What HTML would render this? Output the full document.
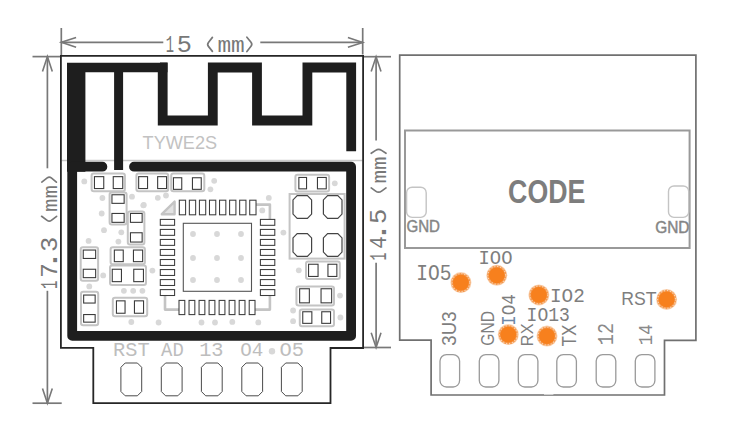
<!DOCTYPE html>
<html><head><meta charset="utf-8"><title>TYWE2S module dimensions</title>
<style>html,body{margin:0;padding:0;background:#fff;overflow:hidden;}svg{display:block;}text{font-kerning:none;}</style>
</head><body><svg width="738" height="432" viewBox="0 0 738 432"><g stroke="#787878" stroke-width="1.7" fill="none"><line x1="61.3" y1="28" x2="61.3" y2="55"/><line x1="362.7" y1="28" x2="362.7" y2="54.5"/><line x1="61.3" y1="42.3" x2="163.3" y2="42.3"/><line x1="260.3" y1="42.4" x2="362.7" y2="42.4"/><line x1="32.5" y1="56.6" x2="60.5" y2="56.6"/><line x1="32.5" y1="403.2" x2="61.7" y2="403.2"/><line x1="47.4" y1="56.6" x2="47.4" y2="168.3"/><line x1="47.4" y1="290.8" x2="47.4" y2="403.2"/><line x1="363.5" y1="56.7" x2="391" y2="56.7"/><line x1="363.5" y1="347.5" x2="391" y2="347.5"/><line x1="376.1" y1="56.7" x2="376.1" y2="140.4"/><line x1="376.1" y1="262.8" x2="376.1" y2="347.5"/></g><polyline points="76.1,37.4 61.3,42.3 76.1,47.2" fill="none" stroke="#787878" stroke-width="1.6"/><polyline points="347.9,37.5 362.7,42.4 347.9,47.3" fill="none" stroke="#787878" stroke-width="1.6"/><polyline points="42.5,71.4 47.4,56.6 52.3,71.4" fill="none" stroke="#787878" stroke-width="1.6"/><polyline points="42.5,388.4 47.4,403.2 52.3,388.4" fill="none" stroke="#787878" stroke-width="1.6"/><polyline points="371.2,71.5 376.1,56.7 381,71.5" fill="none" stroke="#787878" stroke-width="1.6"/><polyline points="371.2,332.7 376.1,347.5 381,332.7" fill="none" stroke="#787878" stroke-width="1.6"/><text transform="translate(165.705,52.4) scale(0.567,1)" font-family="Liberation Mono" font-size="24.291" fill="#787878">1</text><text transform="translate(176.718,52.4) scale(1.042,1)" font-family="Liberation Mono" font-size="24.291" fill="#787878">5</text><text transform="translate(217.398,52.2) scale(1.058,1)" font-family="Liberation Mono" font-size="21.558" fill="#787878">mm</text><path d="M212.4,37.4 L208.44,42.44 Q206.9,44.4 208.44,46.36 L212.4,51.4" fill="none" stroke="#787878" stroke-width="1.7" stroke-linecap="round"/><path d="M246.9,37.2 L251,42.31 Q252.6,44.3 251,46.32 L246.9,51.5" fill="none" stroke="#787878" stroke-width="1.7" stroke-linecap="round"/><text transform="translate(56.8,287.9) rotate(-90) translate(-1.002,0) scale(0.578,1)" font-family="Liberation Mono" font-size="23.987" fill="#787878">1</text><text transform="translate(56.8,275.8) rotate(-90) translate(-1.873,0) scale(1.012,1)" font-family="Liberation Mono" font-size="23.987" fill="#787878">7</text><text transform="translate(56.8,262.1) rotate(-90) translate(-8.865,0) scale(1.444,1)" font-family="Liberation Mono" font-size="25.343" fill="#787878">.</text><text transform="translate(56.8,250.4) rotate(-90) translate(-1.595,0) scale(1.081,1)" font-family="Liberation Mono" font-size="23.619" fill="#787878">3</text><text transform="translate(56.8,210.8) rotate(-90) translate(-1.078,0) scale(1.154,1)" font-family="Liberation Mono" font-size="19.328" fill="#787878">mm</text><path d="M41.6,216.3 L47.14,220.4 Q49.3,222 51.34,220.4 L56.6,216.3" fill="none" stroke="#787878" stroke-width="1.7" stroke-linecap="round"/><path d="M41.8,182.1 L47.2,177.92 Q49.3,176.3 51.29,177.92 L56.4,182.1" fill="none" stroke="#787878" stroke-width="1.7" stroke-linecap="round"/><text transform="translate(386.4,259.5) rotate(-90) translate(-0.942,0) scale(0.558,1)" font-family="Liberation Mono" font-size="23.38" fill="#787878">1</text><text transform="translate(386.4,247.8) rotate(-90) translate(-1.048,0) scale(0.891,1)" font-family="Liberation Mono" font-size="23.38" fill="#787878">4</text><text transform="translate(386.4,234.2) rotate(-90) translate(-8.865,0) scale(1.303,1)" font-family="Liberation Mono" font-size="28.083" fill="#787878">.</text><text transform="translate(386.4,222.5) rotate(-90) translate(-1.595,0) scale(1.092,1)" font-family="Liberation Mono" font-size="23.38" fill="#787878">5</text><text transform="translate(386.4,182.5) rotate(-90) translate(-1.098,0) scale(1.132,1)" font-family="Liberation Mono" font-size="20.071" fill="#787878">mm</text><path d="M371.2,187.9 L375.64,191.08 Q378.6,193.2 381.56,191.08 L386,187.9" fill="none" stroke="#787878" stroke-width="1.7" stroke-linecap="round"/><path d="M371.2,153.3 L375.64,150.36 Q378.6,148.4 381.56,150.36 L386,153.3" fill="none" stroke="#787878" stroke-width="1.7" stroke-linecap="round"/><line x1="61.5" y1="160.5" x2="362.5" y2="160.5" stroke="#cacaca" stroke-width="1.3"/><path d="M60.9,55.9 H363.1 V348 H330.5 V403.2 H93.3 V347.8 H60.9 Z" fill="none" stroke="#262626" stroke-width="1.8"/><path d="M67,62.7 H167.5 V72.2 H123.1 V170 H114.1 V72.2 H85.4 V171.7 H67 Z" fill="#1e1e1e"/><path d="M160,67.5 H162.7 V120.5 H212.8 V67.5 H257 V120.5 H307.4 V67.5 H351.2 V151.3" fill="none" stroke="#1e1e1e" stroke-width="9.8" stroke-linejoin="miter"/><text transform="translate(142.593,149.4) scale(0.952,1)" font-family="Liberation Sans" font-size="19.048" fill="#c2c2c2">TYWE2S</text><path d="M102.4,166.7 H72.2 V335.9 H351.1 V166.7 H134" fill="none" stroke="#1e1e1e" stroke-width="9.8" stroke-linecap="round" stroke-linejoin="round"/><rect x="91.6" y="173.6" width="33.3" height="17.6" rx="2.2" fill="#fff" stroke="#c4c4c4" stroke-width="2"/><rect x="94.45" y="176.65" width="9.3" height="11.9" fill="#fff" stroke="#3c3c3c" stroke-width="1.1"/><rect x="113.25" y="176.65" width="9.5" height="11.9" fill="#fff" stroke="#3c3c3c" stroke-width="1.1"/><rect x="136.4" y="173.6" width="31.8" height="17.6" rx="2.2" fill="#fff" stroke="#c4c4c4" stroke-width="2"/><rect x="138.65" y="176.65" width="8.9" height="11.9" fill="#fff" stroke="#3c3c3c" stroke-width="1.1"/><rect x="157.65" y="176.65" width="8.9" height="11.9" fill="#fff" stroke="#3c3c3c" stroke-width="1.1"/><rect x="171.2" y="173.6" width="33.1" height="17.6" rx="2.2" fill="#fff" stroke="#c4c4c4" stroke-width="2"/><rect x="173.45" y="177.75" width="8.3" height="11.6" fill="#fff" stroke="#3c3c3c" stroke-width="1.1"/><rect x="192.45" y="177.75" width="8.8" height="11.6" fill="#fff" stroke="#3c3c3c" stroke-width="1.1"/><rect x="109.6" y="192.4" width="17" height="32" rx="2.2" fill="#fff" stroke="#c4c4c4" stroke-width="2"/><rect x="111.95" y="194.75" width="12.2" height="8.6" fill="#fff" stroke="#3c3c3c" stroke-width="1.1"/><rect x="111.95" y="213.45" width="12.2" height="8.9" fill="#fff" stroke="#3c3c3c" stroke-width="1.1"/><rect x="127.8" y="211.4" width="16.6" height="33" rx="2.2" fill="#fff" stroke="#c4c4c4" stroke-width="2"/><rect x="130.45" y="213.45" width="11.7" height="8.9" fill="#fff" stroke="#3c3c3c" stroke-width="1.1"/><rect x="130.45" y="232.75" width="11.7" height="9.3" fill="#fff" stroke="#3c3c3c" stroke-width="1.1"/><rect x="80.7" y="247.3" width="17.4" height="33.4" rx="2.2" fill="#fff" stroke="#c4c4c4" stroke-width="2"/><rect x="83.25" y="250.05" width="12.4" height="8.4" fill="#fff" stroke="#3c3c3c" stroke-width="1.1"/><rect x="83.25" y="269.25" width="12.4" height="8.4" fill="#fff" stroke="#3c3c3c" stroke-width="1.1"/><rect x="110.6" y="247.3" width="34.3" height="16.9" rx="2.2" fill="#fff" stroke="#c4c4c4" stroke-width="2"/><rect x="114.35" y="250.05" width="8.9" height="11.6" fill="#fff" stroke="#3c3c3c" stroke-width="1.1"/><rect x="133.45" y="250.05" width="9.2" height="11.6" fill="#fff" stroke="#3c3c3c" stroke-width="1.1"/><rect x="110" y="265.4" width="36" height="19.5" rx="2.2" fill="#fff" stroke="#c4c4c4" stroke-width="2"/><rect x="112.25" y="269.25" width="9.2" height="12.4" fill="#fff" stroke="#3c3c3c" stroke-width="1.1"/><rect x="133.75" y="269.25" width="9.7" height="12.4" fill="#fff" stroke="#3c3c3c" stroke-width="1.1"/><rect x="81" y="291.8" width="17.2" height="33.4" rx="2.2" fill="#fff" stroke="#c4c4c4" stroke-width="2"/><rect x="83.65" y="295.05" width="11.5" height="8" fill="#fff" stroke="#3c3c3c" stroke-width="1.1"/><rect x="83.65" y="314.55" width="11.5" height="7.6" fill="#fff" stroke="#3c3c3c" stroke-width="1.1"/><rect x="112.8" y="297.8" width="34.4" height="18.5" rx="2.2" fill="#fff" stroke="#c4c4c4" stroke-width="2"/><rect x="116.45" y="300.85" width="8.6" height="12.4" fill="#fff" stroke="#3c3c3c" stroke-width="1.1"/><rect x="134.45" y="300.85" width="9.1" height="12.4" fill="#fff" stroke="#3c3c3c" stroke-width="1.1"/><rect x="295.4" y="174.8" width="33.7" height="16.6" rx="2.2" fill="#fff" stroke="#c4c4c4" stroke-width="2"/><rect x="298.85" y="177.45" width="7.7" height="11.4" fill="#fff" stroke="#3c3c3c" stroke-width="1.1"/><rect x="317.45" y="177.45" width="8.8" height="11.4" fill="#fff" stroke="#3c3c3c" stroke-width="1.1"/><rect x="306" y="261.4" width="33.8" height="17.6" rx="2.2" fill="#fff" stroke="#c4c4c4" stroke-width="2"/><rect x="308.55" y="264.25" width="9.5" height="12.2" fill="#fff" stroke="#3c3c3c" stroke-width="1.1"/><rect x="327.95" y="264.25" width="8.9" height="12.2" fill="#fff" stroke="#3c3c3c" stroke-width="1.1"/><rect x="296.4" y="286.4" width="37.6" height="19" rx="2.2" fill="#fff" stroke="#c4c4c4" stroke-width="2"/><rect x="299.65" y="288.75" width="9.7" height="14.1" fill="#fff" stroke="#3c3c3c" stroke-width="1.1"/><rect x="321.05" y="288.75" width="10.6" height="14.1" fill="#fff" stroke="#3c3c3c" stroke-width="1.1"/><rect x="299.8" y="309.4" width="34.2" height="16.9" rx="2.2" fill="#fff" stroke="#c4c4c4" stroke-width="2"/><rect x="302.75" y="311.75" width="9.1" height="11.6" fill="#fff" stroke="#3c3c3c" stroke-width="1.1"/><rect x="321.75" y="311.75" width="8.8" height="11.6" fill="#fff" stroke="#3c3c3c" stroke-width="1.1"/><rect x="289.6" y="194" width="55" height="64.6" fill="#fff" stroke="#c4c4c4" stroke-width="2"/><polygon points="297.2,195.7 307.4,195.7 311.6,199.9 311.6,214.1 307.4,218.3 297.2,218.3 293,214.1 293,199.9" fill="#fff" stroke="#444" stroke-width="1.2"/><polygon points="327.6,195.7 337.8,195.7 342,199.9 342,214.1 337.8,218.3 327.6,218.3 323.4,214.1 323.4,199.9" fill="#fff" stroke="#444" stroke-width="1.2"/><polygon points="297.2,233.7 307.4,233.7 311.6,237.9 311.6,252.1 307.4,256.3 297.2,256.3 293,252.1 293,237.9" fill="#fff" stroke="#444" stroke-width="1.2"/><polygon points="327.6,233.7 337.8,233.7 342,237.9 342,252.1 337.8,256.3 327.6,256.3 323.4,252.1 323.4,237.9" fill="#fff" stroke="#444" stroke-width="1.2"/><polygon points="161.8,214.2 174.6,201.6 174.6,214.2" fill="#e2e2e2" stroke="#c4c4c4" stroke-width="2.4" stroke-linejoin="round"/><g fill="none" stroke="#c4c4c4" stroke-width="2.6" stroke-linejoin="round"><polyline points="256,204.6 269.9,204.6 269.9,219.5"/><polyline points="165,295.8 165,309.6 179,309.6"/><polyline points="255,309.6 269.9,309.6 269.9,295.8"/></g><rect x="183.3" y="223.3" width="68.2" height="68" fill="#fff" stroke="#555" stroke-width="1.1"/><g fill="#fff" stroke="#3c3c3c" stroke-width="1.05"><rect x="179.3" y="200.2" width="6.3" height="14.6"/><rect x="179" y="300.4" width="5.8" height="14.2"/><rect x="160.3" y="219.4" width="14.3" height="5.9"/><rect x="260.4" y="219.4" width="14.4" height="5.9"/><rect x="189.36" y="200.2" width="6.3" height="14.6"/><rect x="189.03" y="300.4" width="5.8" height="14.2"/><rect x="160.3" y="229.43" width="14.3" height="5.9"/><rect x="260.4" y="229.43" width="14.4" height="5.9"/><rect x="199.42" y="200.2" width="6.3" height="14.6"/><rect x="199.06" y="300.4" width="5.8" height="14.2"/><rect x="160.3" y="239.46" width="14.3" height="5.9"/><rect x="260.4" y="239.46" width="14.4" height="5.9"/><rect x="209.48" y="200.2" width="6.3" height="14.6"/><rect x="209.09" y="300.4" width="5.8" height="14.2"/><rect x="160.3" y="249.49" width="14.3" height="5.9"/><rect x="260.4" y="249.49" width="14.4" height="5.9"/><rect x="219.54" y="200.2" width="6.3" height="14.6"/><rect x="219.12" y="300.4" width="5.8" height="14.2"/><rect x="160.3" y="259.52" width="14.3" height="5.9"/><rect x="260.4" y="259.52" width="14.4" height="5.9"/><rect x="229.6" y="200.2" width="6.3" height="14.6"/><rect x="229.15" y="300.4" width="5.8" height="14.2"/><rect x="160.3" y="269.55" width="14.3" height="5.9"/><rect x="260.4" y="269.55" width="14.4" height="5.9"/><rect x="239.66" y="200.2" width="6.3" height="14.6"/><rect x="239.18" y="300.4" width="5.8" height="14.2"/><rect x="160.3" y="279.58" width="14.3" height="5.9"/><rect x="260.4" y="279.58" width="14.4" height="5.9"/><rect x="249.72" y="200.2" width="6.3" height="14.6"/><rect x="249.21" y="300.4" width="5.8" height="14.2"/><rect x="160.3" y="289.61" width="14.3" height="5.9"/><rect x="260.4" y="289.61" width="14.4" height="5.9"/></g><circle cx="84.3" cy="181.4" r="2.9" fill="#d8d8d8"/><circle cx="102.4" cy="198" r="2.9" fill="#d8d8d8"/><circle cx="132" cy="196.7" r="2.9" fill="#d8d8d8"/><circle cx="143.3" cy="205.3" r="2.9" fill="#d8d8d8"/><circle cx="101.7" cy="213.5" r="2.9" fill="#d8d8d8"/><circle cx="157.8" cy="197.8" r="2.9" fill="#d8d8d8"/><circle cx="166" cy="195.5" r="2.9" fill="#d8d8d8"/><circle cx="104" cy="230.2" r="2.9" fill="#d8d8d8"/><circle cx="121.3" cy="232.3" r="2.9" fill="#d8d8d8"/><circle cx="88.6" cy="240.9" r="2.9" fill="#d8d8d8"/><circle cx="118.4" cy="241.6" r="2.9" fill="#d8d8d8"/><circle cx="103.2" cy="275.4" r="2.9" fill="#d8d8d8"/><circle cx="152.4" cy="270.6" r="2.9" fill="#d8d8d8"/><circle cx="89.3" cy="286.4" r="2.9" fill="#d8d8d8"/><circle cx="123.9" cy="290.8" r="2.9" fill="#d8d8d8"/><circle cx="133.2" cy="290.8" r="2.9" fill="#d8d8d8"/><circle cx="142.4" cy="290.8" r="2.9" fill="#d8d8d8"/><circle cx="131.3" cy="322" r="2.9" fill="#d8d8d8"/><circle cx="158.6" cy="322.5" r="2.9" fill="#d8d8d8"/><circle cx="201.5" cy="322.5" r="2.9" fill="#d8d8d8"/><circle cx="215" cy="322.5" r="2.9" fill="#d8d8d8"/><circle cx="232.3" cy="321.9" r="2.9" fill="#d8d8d8"/><circle cx="258.3" cy="322.4" r="2.9" fill="#d8d8d8"/><circle cx="210.4" cy="189.3" r="2.9" fill="#d8d8d8"/><circle cx="214.2" cy="180.8" r="2.9" fill="#d8d8d8"/><circle cx="143.8" cy="204.9" r="2.9" fill="#d8d8d8"/><circle cx="268.8" cy="197.9" r="2.9" fill="#d8d8d8"/><circle cx="262.3" cy="210.4" r="2.9" fill="#d8d8d8"/><circle cx="283.4" cy="232.6" r="2.9" fill="#d8d8d8"/><circle cx="334.8" cy="183.3" r="2.9" fill="#d8d8d8"/><circle cx="298.8" cy="270.3" r="2.9" fill="#d8d8d8"/><circle cx="340" cy="295.6" r="2.9" fill="#d8d8d8"/><circle cx="293.1" cy="310.5" r="2.9" fill="#d8d8d8"/><circle cx="293.1" cy="321.2" r="2.9" fill="#d8d8d8"/><circle cx="340.4" cy="317.5" r="2.9" fill="#d8d8d8"/><circle cx="193" cy="234" r="2.9" fill="#d8d8d8"/><circle cx="193" cy="258" r="2.9" fill="#d8d8d8"/><circle cx="193" cy="280" r="2.9" fill="#d8d8d8"/><circle cx="217" cy="234" r="2.9" fill="#d8d8d8"/><circle cx="217" cy="258" r="2.9" fill="#d8d8d8"/><circle cx="217" cy="280" r="2.9" fill="#d8d8d8"/><circle cx="241" cy="234" r="2.9" fill="#d8d8d8"/><circle cx="241" cy="258" r="2.9" fill="#d8d8d8"/><circle cx="241" cy="280" r="2.9" fill="#d8d8d8"/><circle cx="272" cy="351.3" r="3.2" fill="#d8d8d8"/><text transform="translate(113.093,356.1) scale(1.014,1)" font-family="Liberation Mono" font-size="20.032" fill="#bdbdbd">RST</text><text transform="translate(161.1,355.8) scale(0.928,1)" font-family="Liberation Mono" font-size="20.343" fill="#bdbdbd">AD</text><text transform="translate(199.134,355.8) scale(0.977,1)" font-family="Liberation Mono" font-size="20.779" fill="#bdbdbd">13</text><text transform="translate(240.144,355.8) scale(0.944,1)" font-family="Liberation Mono" font-size="20.331" fill="#bdbdbd">O4</text><text transform="translate(279.583,355.8) scale(1.005,1)" font-family="Liberation Mono" font-size="20.331" fill="#bdbdbd">O5</text><polygon points="125.2,363 137.4,363 141.7,367.3 141.7,391.5 137.4,395.8 125.2,395.8 120.9,391.5 120.9,367.3" fill="#fff" stroke="#4a4a4a" stroke-width="1.0"/><polygon points="165.6,363 177.8,363 182.1,367.3 182.1,391.5 177.8,395.8 165.6,395.8 161.3,391.5 161.3,367.3" fill="#fff" stroke="#4a4a4a" stroke-width="1.0"/><polygon points="205.7,363 217.9,363 222.2,367.3 222.2,391.5 217.9,395.8 205.7,395.8 201.4,391.5 201.4,367.3" fill="#fff" stroke="#4a4a4a" stroke-width="1.0"/><polygon points="246.1,363 258.3,363 262.6,367.3 262.6,391.5 258.3,395.8 246.1,395.8 241.8,391.5 241.8,367.3" fill="#fff" stroke="#4a4a4a" stroke-width="1.0"/><polygon points="285.7,363 297.9,363 302.2,367.3 302.2,391.5 297.9,395.8 285.7,395.8 281.4,391.5 281.4,367.3" fill="#fff" stroke="#4a4a4a" stroke-width="1.0"/><path d="M399.7,55.1 H695.9 V340.3 H664.5 V395 H431.1 V340.1 H399.7 Z" fill="none" stroke="#707070" stroke-width="1.7"/><rect x="405" y="130.5" width="284.6" height="117.5" fill="none" stroke="#999" stroke-width="2"/><rect x="406.6" y="187.2" width="19.6" height="30.2" rx="5.5" fill="none" stroke="#c4c4c4" stroke-width="1.4"/><rect x="668.5" y="186" width="20.2" height="31.4" rx="5.5" fill="none" stroke="#c4c4c4" stroke-width="1.4"/><rect x="544" y="393.7" width="9.4" height="1.1" fill="#fff" fill-opacity="0.7"/><text transform="translate(406.44,232.4) scale(0.872,1)" font-family="Liberation Sans" font-size="17.329" fill="#858585" stroke="#858585" stroke-width="0.45">GND</text><text transform="translate(655.175,233.05) scale(0.94,1)" font-family="Liberation Sans" font-size="16.398" fill="#858585" stroke="#858585" stroke-width="0.45">GND</text><text transform="translate(508.103,202.5) scale(0.822,1)" font-family="Liberation Sans" font-weight="bold" font-size="32.51" fill="#7d7d7d">CODE</text><text transform="translate(416.27,279.9) scale(0.925,1)" font-family="Liberation Mono" font-size="21.153" fill="#7e7e7e">IO5</text><text transform="translate(478.536,263.8) scale(0.943,1)" font-family="Liberation Mono" font-size="20.032" fill="#7e7e7e">IOO</text><text transform="translate(549.889,302) scale(0.997,1)" font-family="Liberation Mono" font-size="19.434" fill="#7e7e7e">IO2</text><text transform="translate(526.62,321.4) scale(0.908,1)" font-family="Liberation Mono" font-size="19.882" fill="#7e7e7e">IO13</text><text transform="translate(621.354,305.2) scale(0.947,1)" font-family="Liberation Sans" font-size="18.618" fill="#7e7e7e">RST</text><text transform="translate(456.1,345) rotate(-90) translate(-0.711,0) scale(0.941,1)" font-family="Liberation Sans" font-size="19.836" fill="#7e7e7e">3U3</text><text transform="translate(494.3,345) rotate(-90) translate(-0.791,0) scale(0.832,1)" font-family="Liberation Sans" font-size="18.905" fill="#7e7e7e">GND</text><text transform="translate(515.2,324.1) rotate(-90) translate(-1.745,0) scale(0.851,1)" font-family="Liberation Mono" font-size="20.779" fill="#7e7e7e"><tspan fill="#6f88a6">I</tspan>O4</text><text transform="translate(533,344.8) rotate(-90) translate(-1.339,0) scale(0.968,1)" font-family="Liberation Sans" font-size="16.861" fill="#7e7e7e">RX</text><text transform="translate(575.6,346) rotate(-90) translate(-0.382,0) scale(0.836,1)" font-family="Liberation Sans" font-size="20.349" fill="#7e7e7e">TX</text><text transform="translate(613.2,343.9) rotate(-90) translate(-1.34,0) scale(0.867,1)" font-family="Liberation Mono" font-size="21.377" fill="#8a8a8a">12</text><text transform="translate(652.1,343.9) rotate(-90) translate(-1.255,0) scale(0.853,1)" font-family="Liberation Mono" font-size="20.343" fill="#8a8a8a">14</text><circle cx="460.9" cy="282.6" r="10.5" fill="#fad3b2"/><circle cx="460.9" cy="282.6" r="9.7" fill="#f4994f"/><circle cx="460.9" cy="282.6" r="8.9" fill="none" stroke="#fbd7b8" stroke-width="1.1" stroke-dasharray="1.2 1.8"/><circle cx="460.9" cy="282.6" r="7.9" fill="#f7801d"/><circle cx="496.8" cy="275.3" r="10.5" fill="#fad3b2"/><circle cx="496.8" cy="275.3" r="9.7" fill="#f4994f"/><circle cx="496.8" cy="275.3" r="8.9" fill="none" stroke="#fbd7b8" stroke-width="1.1" stroke-dasharray="1.2 1.8"/><circle cx="496.8" cy="275.3" r="7.9" fill="#f7801d"/><circle cx="538.9" cy="294.9" r="10.5" fill="#fad3b2"/><circle cx="538.9" cy="294.9" r="9.7" fill="#f4994f"/><circle cx="538.9" cy="294.9" r="8.9" fill="none" stroke="#fbd7b8" stroke-width="1.1" stroke-dasharray="1.2 1.8"/><circle cx="538.9" cy="294.9" r="7.9" fill="#f7801d"/><circle cx="508.3" cy="334.6" r="10.5" fill="#fad3b2"/><circle cx="508.3" cy="334.6" r="9.7" fill="#f4994f"/><circle cx="508.3" cy="334.6" r="8.9" fill="none" stroke="#fbd7b8" stroke-width="1.1" stroke-dasharray="1.2 1.8"/><circle cx="508.3" cy="334.6" r="7.9" fill="#f7801d"/><circle cx="547" cy="336.1" r="10.5" fill="#fad3b2"/><circle cx="547" cy="336.1" r="9.7" fill="#f4994f"/><circle cx="547" cy="336.1" r="8.9" fill="none" stroke="#fbd7b8" stroke-width="1.1" stroke-dasharray="1.2 1.8"/><circle cx="547" cy="336.1" r="7.9" fill="#f7801d"/><circle cx="666.6" cy="299.4" r="10.5" fill="#fad3b2"/><circle cx="666.6" cy="299.4" r="9.7" fill="#f4994f"/><circle cx="666.6" cy="299.4" r="8.9" fill="none" stroke="#fbd7b8" stroke-width="1.1" stroke-dasharray="1.2 1.8"/><circle cx="666.6" cy="299.4" r="7.9" fill="#f7801d"/><rect x="440" y="354.6" width="19.6" height="32.4" rx="6.5" fill="none" stroke="#9a9a9a" stroke-width="1.3"/><rect x="479.3" y="354.6" width="19.6" height="32.4" rx="6.5" fill="none" stroke="#9a9a9a" stroke-width="1.3"/><rect x="518.3" y="354.6" width="19.6" height="32.4" rx="6.5" fill="none" stroke="#9a9a9a" stroke-width="1.3"/><rect x="556.8" y="354.6" width="19.6" height="32.4" rx="6.5" fill="none" stroke="#9a9a9a" stroke-width="1.3"/><rect x="596.2" y="354.6" width="19.6" height="32.4" rx="6.5" fill="none" stroke="#9a9a9a" stroke-width="1.3"/><rect x="635.3" y="354.6" width="19.6" height="32.4" rx="6.5" fill="none" stroke="#9a9a9a" stroke-width="1.3"/></svg></body></html>
